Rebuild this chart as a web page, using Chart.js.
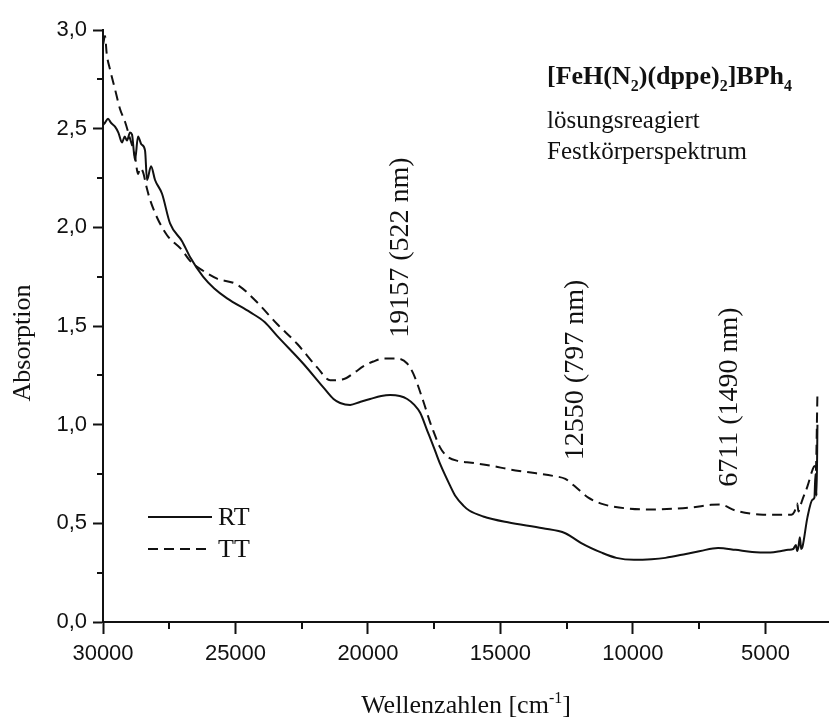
<!DOCTYPE html>
<html>
<head>
<meta charset="utf-8">
<script src="https://cdn.jsdelivr.net/npm/chart.js@4.4.0/dist/chart.umd.min.js"></script>
<style>
  html, body { margin: 0; padding: 0; background: #fff; }
  #wrap { width: 829px; height: 722px; position: relative; }
</style>
</head>
<body>
<div id="wrap"><canvas id="chart"></canvas></div>
<script>
// RT spectrum (solid)
const rtWavenumber = [
  29990, 29924, 29811, 29700, 29547, 29420, 29282, 29180, 29094, 28980,
  28905, 28792, 28678, 28550, 28414, 28338, 28187, 28036, 27772, 27470,
  27017, 26715, 26224, 25800, 25317, 24449, 23900, 23429, 22447, 21692,
  21300, 21050, 20672, 20300, 19917, 19500, 19162, 18800, 18520, 18250,
  18029, 17764, 17500, 17273, 16896, 16707, 16400, 16178, 15650, 14720,
  13399, 12553, 12300, 11949, 11156, 10627, 9962, 9300, 8776, 8000,
  7455, 6786, 6133, 5500, 4811, 4400, 4143, 3950, 3850, 3800,
  3754, 3700, 3650, 3602, 3414, 3225, 3150, 3111, 3070, 3036
];
const rtAbsorption = [
  2.52, 2.53, 2.55, 2.53, 2.51, 2.48, 2.43, 2.46, 2.44, 2.48,
  2.47, 2.34, 2.46, 2.42, 2.39, 2.24, 2.31, 2.24, 2.17, 2.02,
  1.93, 1.85, 1.75, 1.69, 1.64, 1.57, 1.52, 1.45, 1.31, 1.19,
  1.13, 1.11, 1.10, 1.115, 1.13, 1.145, 1.15, 1.145, 1.13, 1.10,
  1.06, 0.97, 0.88, 0.80, 0.69, 0.64, 0.59, 0.565, 0.535, 0.505,
  0.475, 0.45, 0.43, 0.40, 0.35, 0.325, 0.315, 0.318, 0.325, 0.345,
  0.36, 0.375, 0.366, 0.355, 0.352, 0.36, 0.366, 0.37, 0.39, 0.36,
  0.38, 0.43, 0.37, 0.38, 0.53, 0.62, 0.63, 0.75, 0.64, 1.0
];

// TT spectrum (dashed)
const ttWavenumber = [
  29990, 29924, 29860, 29736, 29547, 29358, 29169, 28980, 28792, 28678,
  28600, 28489, 28350, 28225, 27961, 27583, 27017, 26715, 26224, 25695,
  24940, 24184, 23429, 22674, 21918, 21427, 20937, 20500, 20181, 19800,
  19426, 18897, 18520, 18293, 17915, 17651, 17538, 17300, 17021, 16571,
  16265, 15272, 14720, 14000, 13000, 12550, 12213, 11684, 11200, 10755,
  9434, 8112, 7500, 7051, 6711, 6133, 5500, 5076, 4500, 4018,
  3900, 3800, 3750, 3700, 3602, 3414, 3225, 3150, 3100, 3036
];
const ttAbsorption = [
  2.93, 2.97, 2.88, 2.80, 2.70, 2.60, 2.535, 2.45, 2.36, 2.27,
  2.30, 2.28, 2.20, 2.14, 2.05, 1.96, 1.885, 1.83, 1.78, 1.74,
  1.71, 1.62, 1.51, 1.41, 1.29, 1.225, 1.23, 1.265, 1.295, 1.32,
  1.335, 1.335, 1.31, 1.26, 1.12, 1.01, 0.97, 0.89, 0.84, 0.815,
  0.81, 0.79, 0.775, 0.76, 0.74, 0.725, 0.69, 0.63, 0.60, 0.585,
  0.57, 0.577, 0.585, 0.594, 0.595, 0.565, 0.548, 0.544, 0.543, 0.544,
  0.56, 0.60, 0.56, 0.58, 0.62, 0.687, 0.77, 0.79, 0.76, 1.16
];

const seriesNames = ['RT', 'TT'];
const xTickValues = [30000, 25000, 20000, 15000, 10000, 5000];
const xMinorTicks = [27500, 22500, 17500, 12500, 7500];
const yTickValues = [0, 0.5, 1.0, 1.5, 2.0, 2.5, 3.0];
const yMinorTicks = [0.25, 0.75, 1.25, 1.75, 2.25, 2.75];
const peakWavenumbers = [19157, 12550, 6711];
const peakLabels = ['19157 (522 nm)', '12550 (797 nm)', '6711 (1490 nm)'];

const SERIF = '"Liberation Serif", "Times New Roman", serif';
const SANS = '"Liberation Sans", Arial, sans-serif';
const INK = '#111';

function toPoints(xs, ys) {
  return xs.map((x, i) => ({ x: x, y: ys[i] }));
}

// draws text made of runs, some of them sub- or superscript
function drawRuns(ctx, runs, x, y, size, weight) {
  runs.forEach(r => {
    const small = r.sub || r.sup;
    ctx.font = `${weight} ${small ? Math.round(size * 0.62) : size}px ${SERIF}`;
    const dy = r.sub ? size * 0.28 : (r.sup ? -size * 0.38 : 0);
    ctx.fillText(r.t, x, y + dy);
    x += ctx.measureText(r.t).width;
  });
  return x;
}

function runsWidth(ctx, runs, size, weight) {
  let w = 0;
  runs.forEach(r => {
    const small = r.sub || r.sup;
    ctx.font = `${weight} ${small ? Math.round(size * 0.62) : size}px ${SERIF}`;
    w += ctx.measureText(r.t).width;
  });
  return w;
}

const overlayPlugin = {
  id: 'overlay',
  afterDraw(chart) {
    const ctx = chart.ctx;
    const xs = chart.scales.x;
    const ys = chart.scales.y;
    const area = chart.chartArea;
    ctx.save();

    // minor ticks
    ctx.strokeStyle = INK;
    ctx.lineWidth = 2;
    xMinorTicks.forEach(v => {
      const px = Math.round(xs.getPixelForValue(v));
      ctx.beginPath();
      ctx.moveTo(px, area.bottom);
      ctx.lineTo(px, area.bottom + 7);
      ctx.stroke();
    });
    yMinorTicks.forEach(v => {
      const py = Math.round(ys.getPixelForValue(v));
      ctx.beginPath();
      ctx.moveTo(area.left, py);
      ctx.lineTo(area.left - 6, py);
      ctx.stroke();
    });

    ctx.fillStyle = INK;
    ctx.textBaseline = 'alphabetic';

    // axis titles
    ctx.save();
    ctx.translate(23, (area.top + area.bottom) / 2 + 17);
    ctx.rotate(-Math.PI / 2);
    ctx.font = `26px ${SERIF}`;
    ctx.textAlign = 'center';
    ctx.textBaseline = 'middle';
    ctx.fillText('Absorption', 0, 0);
    ctx.restore();

    ctx.textAlign = 'left';
    const xTitle = [{ t: 'Wellenzahlen [cm' }, { t: '-1', sup: true }, { t: ']' }];
    const wt = runsWidth(ctx, xTitle, 26, 'normal');
    drawRuns(ctx, xTitle, (area.left + area.right) / 2 - wt / 2, 713, 26, 'normal');

    // heading
    const heading = [
      { t: '[FeH(N' }, { t: '2', sub: true }, { t: ')(dppe)' }, { t: '2', sub: true },
      { t: ']BPh' }, { t: '4', sub: true }
    ];
    drawRuns(ctx, heading, 547, 84, 26, 'bold');
    ctx.font = `25px ${SERIF}`;
    ctx.fillText('lösungsreagiert', 547, 128);
    ctx.fillText('Festkörperspektrum', 547, 159);

    // peak labels, rotated
    const labelBottoms = [1.44, 0.82, 0.685];
    peakLabels.forEach((txt, i) => {
      const px = xs.getPixelForValue(peakWavenumbers[i]);
      const py = ys.getPixelForValue(labelBottoms[i]);
      ctx.save();
      ctx.translate(px + 10, py);
      ctx.rotate(-Math.PI / 2);
      ctx.font = `28px ${SERIF}`;
      ctx.textAlign = 'left';
      ctx.textBaseline = 'middle';
      ctx.fillText(txt, 0, 0);
      ctx.restore();
    });

    // legend
    chart.data.datasets.forEach((ds, i) => {
      const ly = 517 + i * 32;
      ctx.beginPath();
      ctx.setLineDash(ds.borderDash || []);
      ctx.lineWidth = 2;
      ctx.moveTo(148, ly);
      ctx.lineTo(212, ly);
      ctx.stroke();
      ctx.setLineDash([]);
      ctx.font = `26px ${SERIF}`;
      ctx.textBaseline = 'middle';
      ctx.fillText(ds.label, 218, ly + 1);
    });

    ctx.restore();
  }
};

new Chart(document.getElementById('chart'), {
  type: 'scatter',
  data: {
    datasets: [
      {
        label: seriesNames[0],
        data: toPoints(rtWavenumber, rtAbsorption),
        showLine: true,
        borderColor: INK,
        borderWidth: 2,
        pointRadius: 0,
        cubicInterpolationMode: 'monotone',
        fill: false
      },
      {
        label: seriesNames[1],
        data: toPoints(ttWavenumber, ttAbsorption),
        showLine: true,
        borderColor: INK,
        borderWidth: 2,
        borderDash: [10, 6],
        pointRadius: 0,
        cubicInterpolationMode: 'monotone',
        fill: false
      }
    ]
  },
  options: {
    responsive: true,
    maintainAspectRatio: false,
    animation: false,
    devicePixelRatio: 1,
    layout: { padding: { top: 30, right: 0, left: 0, bottom: 0 } },
    plugins: {
      legend: { display: false },
      tooltip: { enabled: false }
    },
    scales: {
      x: {
        type: 'linear',
        reverse: true,
        min: 2600,
        max: 30000,
        afterBuildTicks: scale => { scale.ticks = xTickValues.map(v => ({ value: v })); },
        afterFit: scale => { scale.height = 100; },
        border: { display: true, color: INK, width: 2 },
        grid: { drawOnChartArea: false, drawTicks: true, tickLength: 12, tickWidth: 2, tickColor: INK },
        ticks: {
          color: INK,
          font: { family: SANS, size: 22 },
          padding: 7,
          maxRotation: 0,
          callback: v => String(v)
        }
      },
      y: {
        type: 'linear',
        min: 0,
        max: 3,
        afterBuildTicks: scale => { scale.ticks = yTickValues.map(v => ({ value: v })); },
        afterFit: scale => { scale.width = 103; },
        border: { display: true, color: INK, width: 2 },
        grid: { drawOnChartArea: false, drawTicks: true, tickLength: 10, tickWidth: 2, tickColor: INK },
        ticks: {
          color: INK,
          font: { family: SANS, size: 22 },
          padding: 6,
          callback: v => v.toFixed(1).replace('.', ',')
        }
      }
    }
  },
  plugins: [overlayPlugin]
});
</script>
</body>
</html>
